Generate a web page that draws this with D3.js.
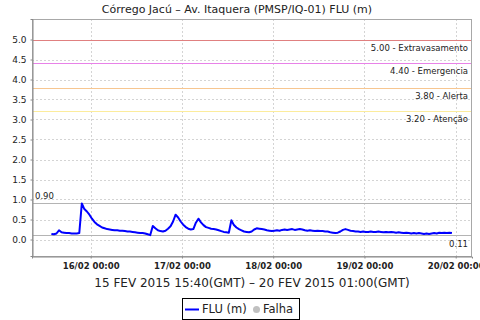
<!DOCTYPE html>
<html>
<head>
<meta charset="utf-8">
<script src="https://cdn.jsdelivr.net/npm/d3@7/dist/d3.min.js"></script>
<style>
  body { margin: 0; background: #fff; }
  text { font-family: "DejaVu Sans", sans-serif; fill: #222; }
</style>
</head>
<body>
<div id="chart"></div>
<script>
var fullWidth = 480;
var fullHeight = 320;
var margin = {top: 19, right: 8, bottom: 64, left: 32};
var width = fullWidth - margin.left - margin.right;
var height = fullHeight - margin.top - margin.bottom;

// readings every 40 min, local time (GMT-2), from 15/02 13:40
var startTime = Date.UTC(2015, 1, 15, 13, 40);
var stepMinutes = 40;
var levels = [
  0.14, 0.13, 0.15, 0.23, 0.18, 0.17, 0.16, 0.16, 0.15, 0.15,
  0.15, 0.16, 0.90, 0.76, 0.70, 0.62, 0.52, 0.44, 0.38, 0.34,
  0.30, 0.28, 0.26, 0.25, 0.24, 0.23, 0.23, 0.22, 0.22, 0.21,
  0.20, 0.20, 0.19, 0.18, 0.17, 0.16, 0.16, 0.15, 0.13, 0.11,
  0.34, 0.28, 0.23, 0.21, 0.20, 0.22, 0.27, 0.33, 0.45, 0.62,
  0.55, 0.45, 0.37, 0.31, 0.27, 0.25, 0.26, 0.42, 0.52, 0.43,
  0.36, 0.31, 0.29, 0.27, 0.26, 0.25, 0.23, 0.21, 0.19, 0.18,
  0.17, 0.48, 0.36, 0.30, 0.26, 0.23, 0.20, 0.19, 0.18, 0.20,
  0.25, 0.28, 0.27, 0.26, 0.25, 0.23, 0.22, 0.21, 0.22, 0.23,
  0.22, 0.24, 0.25, 0.24, 0.25, 0.26, 0.24, 0.25, 0.26, 0.25,
  0.23, 0.22, 0.23, 0.22, 0.21, 0.22, 0.21, 0.21, 0.20, 0.20,
  0.18, 0.17, 0.16, 0.17, 0.20, 0.24, 0.26, 0.24, 0.22, 0.21,
  0.20, 0.20, 0.19, 0.20, 0.19, 0.19, 0.20, 0.19, 0.19, 0.20,
  0.19, 0.18, 0.19, 0.18, 0.19, 0.18, 0.17, 0.18, 0.17, 0.16,
  0.17, 0.16, 0.15, 0.16, 0.15, 0.16, 0.15, 0.14, 0.15, 0.14,
  0.15, 0.16, 0.15, 0.17, 0.16, 0.17, 0.16, 0.17, 0.16
];

var thresholds = [5.00, 4.40, 3.80, 3.20];
var thresholdNames = ["Extravasamento", "Emergencia", "Alerta", "Atenção"];
var thresholdColors = ["#e08080", "#e882e8", "#f7c690", "#fcec9c"];

var maxLevel = 0.90;
var minLevel = 0.11;

var yTicks = [0, 0.5, 1, 1.5, 2, 2.5, 3, 3.5, 4, 4.5, 5];
var dayTicks = [16, 17, 18, 19, 20];

var titleText = "Córrego Jacú – Av. Itaquera (PMSP/IQ-01) FLU (m)";
var periodText = "15 FEV 2015 15:40(GMT) – 20 FEV 2015 01:00(GMT)";

var data = levels.map(function(v, i) {
  return {t: new Date(startTime + i * stepMinutes * 60000), v: v};
});

var svg = d3.select("#chart")
  .append("svg")
  .attr("width", fullWidth)
  .attr("height", fullHeight);

var g = svg.append("g")
  .attr("transform", "translate(" + margin.left + "," + margin.top + ")");

var xScale = d3.scaleUtc()
  .domain([new Date(Date.UTC(2015, 1, 15, 8, 34)), new Date(Date.UTC(2015, 1, 20, 4, 17))])
  .range([0, width]);
var yScale = d3.scaleLinear().domain([-0.4125, 5.5125]).range([height, 0]);

var tickDates = dayTicks.map(function(d) { return new Date(Date.UTC(2015, 1, d)); });

// grid
g.selectAll(".hgrid").data(yTicks).enter().append("line")
  .attr("x1", 0).attr("x2", width)
  .attr("y1", function(d) { return Math.round(yScale(d)) + 0.5; })
  .attr("y2", function(d) { return Math.round(yScale(d)) + 0.5; })
  .attr("stroke", "#d4d4d4").attr("stroke-dasharray", "2,2");
g.selectAll(".vgrid").data(tickDates).enter().append("line")
  .attr("y1", 0).attr("y2", height)
  .attr("x1", function(d) { return Math.round(xScale(d)) + 0.5; })
  .attr("x2", function(d) { return Math.round(xScale(d)) + 0.5; })
  .attr("stroke", "#d4d4d4").attr("stroke-dasharray", "2,2");

// threshold lines
thresholds.forEach(function(t, i) {
  var y = Math.round(yScale(t)) + 0.5;
  g.append("line").attr("x1", 0).attr("x2", width).attr("y1", y).attr("y2", y)
    .attr("stroke", thresholdColors[i]).attr("stroke-width", 1);
  g.append("text").attr("x", width - 4).attr("y", y + 10.5)
    .attr("text-anchor", "end").attr("font-size", "8.5px")
    .text(t.toFixed(2) + " - " + thresholdNames[i]);
});

// max / min lines
[maxLevel, minLevel].forEach(function(t) {
  var y = Math.round(yScale(t)) + 0.5;
  g.append("line").attr("x1", 0).attr("x2", width).attr("y1", y).attr("y2", y)
    .attr("stroke", "#b4b4b4").attr("stroke-width", 1);
});
g.append("text").attr("x", 3).attr("y", Math.round(yScale(maxLevel)) - 4)
  .attr("font-size", "8.5px").text(maxLevel.toFixed(2));
g.append("text").attr("x", width - 4).attr("y", Math.round(yScale(minLevel)) + 12)
  .attr("text-anchor", "end").attr("font-size", "8.5px").text(minLevel.toFixed(2));

// series
var line = d3.line()
  .x(function(d) { return xScale(d.t); })
  .y(function(d) { return yScale(d.v); });
g.append("path").datum(data)
  .attr("d", line)
  .attr("fill", "none")
  .attr("stroke", "#0000ff")
  .attr("stroke-width", 2)
  .attr("stroke-linejoin", "round");

// frame
g.append("rect").attr("x", 0.5).attr("y", 0.5).attr("width", width - 1).attr("height", height)
  .attr("fill", "none").attr("stroke", "#a8a8a8");

// axes
var yAxis = d3.axisLeft(yScale).tickValues(yTicks).tickSize(2).tickPadding(4)
  .tickFormat(d3.format(".1f"));
var yg = g.append("g").attr("transform", "translate(0.5,0)").call(yAxis);
yg.select(".domain").attr("stroke", "#888");
yg.selectAll(".tick line").attr("stroke", "#888");
yg.selectAll("text").attr("font-size", "9px").attr("font-family", "DejaVu Sans").attr("fill", "#222");

var xAxis = d3.axisBottom(xScale).tickValues(tickDates).tickSize(2).tickPadding(4)
  .tickFormat(d3.utcFormat("%d/%m %H:%M"));
var xg = g.append("g").attr("transform", "translate(0," + (height + 0.5) + ")").call(xAxis);
xg.select(".domain").attr("stroke", "#888");
xg.selectAll(".tick line").attr("stroke", "#888");
xg.selectAll("text").attr("font-size", "8.5px").attr("font-weight", "bold")
  .attr("font-family", "DejaVu Sans").attr("fill", "#222");

// titles
svg.append("text").attr("x", 237).attr("y", 12.5).attr("text-anchor", "middle")
  .attr("font-size", "11px").text(titleText);
svg.append("text").attr("x", margin.left + width / 2).attr("y", 287)
  .attr("text-anchor", "middle").attr("font-size", "12px").text(periodText);

// legend
var lg = svg.append("g").attr("transform", "translate(182,298)");
lg.append("rect").attr("x", 0.5).attr("y", 0.5).attr("width", 117).attr("height", 21)
  .attr("fill", "#fff").attr("stroke", "#000");
lg.append("line").attr("x1", 3).attr("x2", 17).attr("y1", 11.5).attr("y2", 11.5)
  .attr("stroke", "#0000ff").attr("stroke-width", 2);
lg.append("text").attr("x", 20).attr("y", 15).attr("font-size", "11.5px").text("FLU (m)");
lg.append("circle").attr("cx", 74.5).attr("cy", 11.5).attr("r", 3.5).attr("fill", "#c0c0c0");
lg.append("text").attr("x", 81).attr("y", 15).attr("font-size", "11.5px").text("Falha");
</script>
</body>
</html>
